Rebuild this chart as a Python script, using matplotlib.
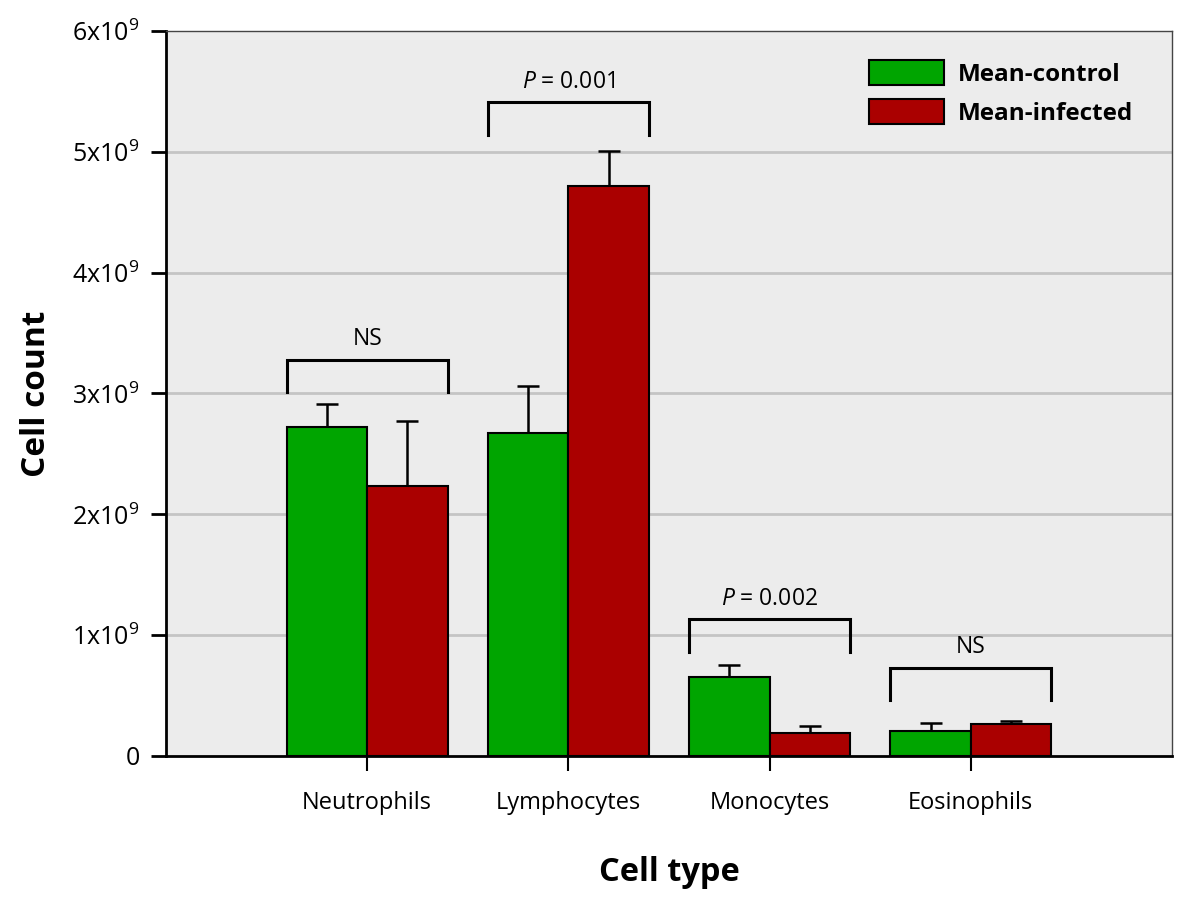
import numpy as np
import matplotlib
matplotlib.use('Agg')
import matplotlib.pyplot as plt

# Data (units of 1e9 cells)
cell_types = ['Neutrophils', 'Lymphocytes', 'Monocytes', 'Eosinophils']
control_mean = [2.72, 2.67, 0.65, 0.21]
control_err = [0.19, 0.39, 0.10, 0.063]
infected_mean = [2.235, 4.72, 0.193, 0.262]
infected_err = [0.54, 0.29, 0.057, 0.028]
p_labels = ['NS', '$P$ = 0.001', '$P$ = 0.002', 'NS']
bracket_tops = [3.28, 5.41, 1.13, 0.73]
y_ticks = [0, 1, 2, 3, 4, 5, 6]

plt.rcParams['font.family'] = ['Open Sans', 'DejaVu Sans']
plt.rcParams['mathtext.fontset'] = 'custom'
plt.rcParams['mathtext.rm'] = 'Open Sans'
plt.rcParams['mathtext.it'] = 'Open Sans:italic'

scale = 1e9
x = np.arange(len(cell_types))
w = 0.4

fig = plt.figure(figsize=(12, 9.02), dpi=100)
ax = fig.add_axes([0.1383, 0.1619, 0.8384, 0.8037])
ax.set_facecolor('#ececec')

ax.set_ylim(0, 6 * scale)
ax.set_xlim(-1, 4)

for yv in y_ticks[1:-1]:
    ax.axhline(yv * scale, color='#c4c4c4', lw=2, zorder=0)

cm = np.array(control_mean) * scale
im = np.array(infected_mean) * scale
ce = np.array(control_err) * scale
ie = np.array(infected_err) * scale

ax.bar(x - w / 2, cm, w, color='#00a500', edgecolor='black', lw=1.5,
       label='Mean-control', zorder=3)
ax.bar(x + w / 2, im, w, color='#aa0000', edgecolor='black', lw=1.5,
       label='Mean-infected', zorder=3)
ax.errorbar(x - w / 2, cm, yerr=[np.zeros_like(ce), ce], fmt='none',
            ecolor='black', elinewidth=1.8, capsize=8, capthick=1.8, zorder=2)
ax.errorbar(x + w / 2, im, yerr=[np.zeros_like(ie), ie], fmt='none',
            ecolor='black', elinewidth=1.8, capsize=8, capthick=1.8, zorder=2)

# significance brackets
leg = 0.27 * scale
for i, (top, lab) in enumerate(zip(bracket_tops, p_labels)):
    t = top * scale
    x0, x1 = i - w, i + w
    ax.plot([x0, x0, x1, x1], [t - leg, t, t, t - leg], color='black',
            lw=2.2, zorder=4, solid_joinstyle='miter')
    ax.text(i, t + 0.07 * scale, lab, ha='center', va='bottom', fontsize=16.5)

ax.set_yticks([v * scale for v in y_ticks])
ax.set_yticklabels(['0'] + [f'{v}x10$^9$' for v in y_ticks[1:]], fontsize=18)
ax.set_xticks(x)
ax.set_xticklabels(cell_types, fontsize=17)
ax.tick_params(axis='y', direction='out', length=11, width=2, pad=8)
ax.tick_params(axis='x', direction='out', length=11, width=1.5, pad=14)

for s in ['left', 'bottom']:
    ax.spines[s].set_linewidth(2)
for s in ['top', 'right']:
    ax.spines[s].set_linewidth(1)
    ax.spines[s].set_color('#444444')

ax.set_ylabel('Cell count', fontsize=24, fontweight='bold', labelpad=14)
ax.set_xlabel('Cell type', fontsize=23.5, fontweight='bold', labelpad=30)

ax.legend(loc='upper right', bbox_to_anchor=(0.983, 0.99), frameon=False,
          prop={'size': 17.5, 'weight': 'bold'}, handlelength=3.1,
          handleheight=1.2, labelspacing=0.5, handletextpad=0.55)

fig.savefig('out.png', dpi=100)
